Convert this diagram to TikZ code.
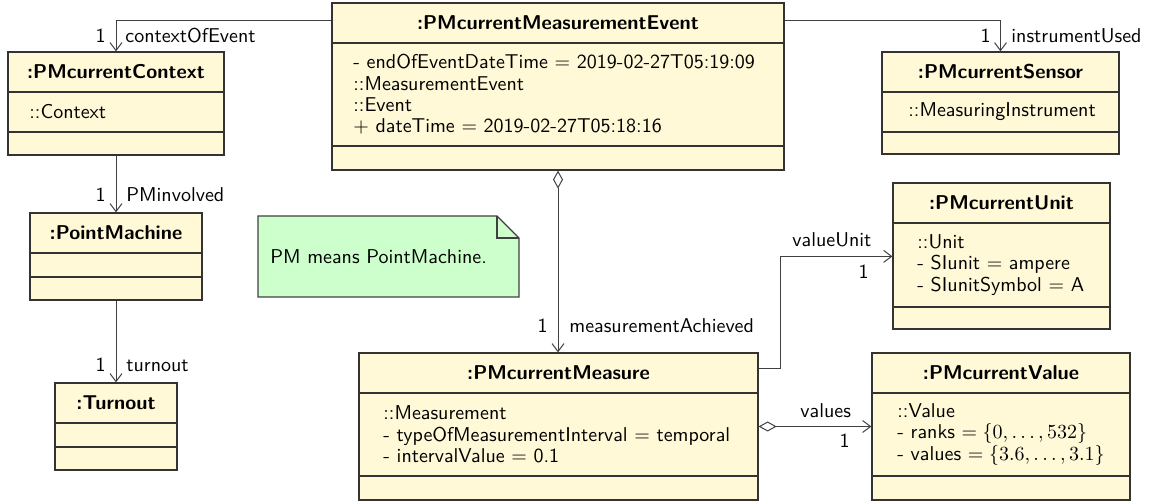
\documentclass[tikz,border=0pt]{standalone}
\usepackage{fontspec}
\usetikzlibrary{arrows.meta,fit}
\definecolor{classfill}{RGB}{255,249,215}
\definecolor{notefill}{RGB}{204,255,204}

\begin{document}
\begin{tikzpicture}[
    x=0.5pt, y=-0.5pt,
    every node/.style={font=\sffamily},
    cls/.style={draw=black!80, fill=classfill, line width=0.6pt, inner sep=0pt},
    sep/.style={draw=black!80, line width=0.6pt},
    title/.style={font=\sffamily\bfseries},
    attr/.style={anchor=west, align=left, inner sep=0pt,
        font=\sffamily\fontsize{10}{10.7}\selectfont},
    assoc/.style={draw=black!75, line width=0.5pt,
        -{Straight Barb[length=4pt,width=6pt]}},
    agg/.style={draw=black!75, line width=0.5pt,
        {Diamond[open,length=9pt,width=5pt]}-{Straight Barb[length=4pt,width=6pt]}},
    lbl/.style={inner sep=0pt}
]
    \useasboundingbox (0,0) rectangle (1150,501);

    % classes
    \node[cls, fit={(332,3) (784,170)}] (event) {};
    \draw[sep] (332,43) -- (784,43) (332,146) -- (784,146);
    \node[title] (eventt) at (558,23) {:PMcurrentMeasurementEvent};
    \node[attr] (eventa) at (353,94.5) {- endOfEventDateTime $=$ 2019-02-27T05:19:09\\
        ::MeasurementEvent\\ ::Event\\ $+$ dateTime $=$ 2019-02-27T05:18:16};

    \node[cls, fit={(8,52) (224,155)}] (context) {};
    \draw[sep] (8,92) -- (224,92) (8,132) -- (224,132);
    \node[title] (contextt) at (116,72) {:PMcurrentContext};
    \node[attr] (contexta) at (29,112) {::Context};

    \node[cls, fit={(30,213) (202,300)}] (pm) {};
    \draw[sep] (30,253) -- (202,253) (30,277) -- (202,277);
    \node[title] (pmt) at (116,233) {:PointMachine};

    \node[cls, fit={(55,383) (177,470)}] (turnout) {};
    \draw[sep] (55,423) -- (177,423) (55,447) -- (177,447);
    \node[title] (turnoutt) at (116,403) {:Turnout};

    \node[cls, fit={(882,52) (1119,154)}] (sensor) {};
    \draw[sep] (882,92) -- (1119,92) (882,132) -- (1119,132);
    \node[title] (sensort) at (1000.5,72) {:PMcurrentSensor};
    \node[attr] (sensora) at (908,112) {::MeasuringInstrument};

    \node[cls, fit={(893,183) (1110,329)}] (unit) {};
    \draw[sep] (893,223) -- (1110,223) (893,307) -- (1110,307);
    \node[title] (unitt) at (1001.5,203) {:PMcurrentUnit};
    \node[attr] (unita) at (917,265) {::Unit\\ - SIunit $=$ ampere\\ - SIunitSymbol $=$ A};

    \node[cls, fit={(359,353) (758,500)}] (measure) {};
    \draw[sep] (359,393) -- (758,393) (359,476) -- (758,476);
    \node[title] (measuret) at (558.5,373) {:PMcurrentMeasure};
    \node[attr] (measurea) at (383,434.5) {::Measurement\\
        - typeOfMeasurementInterval $=$ temporal\\ - intervalValue $=$ 0.1};

    \node[cls, fit={(872,353) (1130,500)}] (value) {};
    \draw[sep] (872,393) -- (1130,393) (872,476) -- (1130,476);
    \node[title] (valuet) at (1001,373) {:PMcurrentValue};
    \node[attr] (valuea) at (897,434.5) {::Value\\ - ranks $=\{0,\ldots,532\}$\\
        - values $=\{3.6,\ldots,3.1\}$};

    % note
    \draw[draw=black!75, fill=notefill, line width=0.6pt]
        (258,216) -- (497,216) -- (519,238) -- (519,297) -- (258,297) -- cycle;
    \draw[draw=black!75, line width=0.6pt] (497,216) -- (497,238) -- (519,238);
    \node[anchor=west, inner sep=0pt] (note) at (270,256.5) {PM means PointMachine.};

    % links
    \draw[assoc] ([yshift=-9pt]event.north west) -| (context.north);
    \node[lbl, anchor=base east] (m1) at (106,43) {1};
    \node[lbl, anchor=base west] (r1) at (125,43) {contextOfEvent};

    \draw[assoc] ([yshift=-9pt]event.north east) -| (sensor.north);
    \node[lbl, anchor=base east] (m2) at (991,43) {1};
    \node[lbl, anchor=base west] (r2) at (1011,43) {instrumentUsed};

    \draw[assoc] (context.south) -- (pm.north);
    \node[lbl, anchor=base east] (m3) at (106,202) {1};
    \node[lbl, anchor=base west] (r3) at (126,202) {PMinvolved};

    \draw[assoc] (pm.south) -- (turnout.north);
    \node[lbl, anchor=base east] (m4) at (106,372) {1};
    \node[lbl, anchor=base west] (r4) at (126,372) {turnout};

    \draw[agg] (event.south) -- (event.south |- measure.north);
    \node[lbl, anchor=base east] (m5) at (548,333) {1};
    \node[lbl, anchor=base west] (r5) at (569,333) {measurementAchieved};

    \draw[assoc] ([yshift=-8pt]measure.north east) -- ++(11pt,0)
        |- ([yshift=-37pt]unit.north west);
    \node[lbl, anchor=base west] (r6) at (792,247) {valueUnit};
    \node[lbl, anchor=base east] (m6) at (869,279) {1};

    \draw[agg] (measure.east) -- (value.west);
    \node[lbl, anchor=base west] (r7) at (800,418) {values};
    \node[lbl, anchor=base east] (m7) at (850,448) {1};
\end{tikzpicture}
\end{document}
